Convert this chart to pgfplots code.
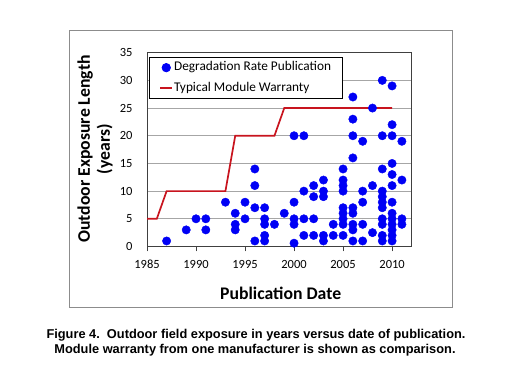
\documentclass[border=0pt]{standalone}
\usepackage{pgfplots}
\pgfplotsset{compat=1.18}
\usepackage{pgfplotstable}
\usepackage{fontspec}
\setmainfont{Carlito}
\newfontfamily\arialfont{Liberation Sans}
\definecolor{dotblue}{RGB}{0,0,245}
\definecolor{warred}{RGB}{200,20,30}

\pgfplotsset{
  dotleg/.style={legend image code/.code={\draw[##1] plot coordinates {(6pt,0pt)};}},
  lineleg/.style={legend image code/.code={\draw[##1] (0pt,0pt) -- (12pt,0pt);}},
}

\pgfplotstableread{
year value
1987 1
1989 3
1990 5
1991 5
1991 3
1993 8
1994 6
1994 4
1994 3
1995 8
1995 5
1996 14
1996 11
1996 7
1996 1
1997 7
1997 5
1997 4
1997 2
1997 1
1998 4
1999 6
2000 20
2000 8
2000 5
2000 4
2000 0.6
2001 20
2001 10
2001 5
2001 2
2002 11
2002 9
2002 5
2002 2
2003 12
2003 10
2003 9
2003 2
2003 1
2004 4
2004 2
2005 14
2005 12
2005 11
2005 10
2005 7
2005 6
2005 5
2005 4
2005 2
2006 27
2006 23
2006 20
2006 16
2006 7
2006 6
2006 4
2006 3
2006 1
2007 19
2007 10
2007 8
2007 4
2007 1
2008 25
2008 11
2008 2.5
2009 30
2009 20
2009 14
2009 10
2009 9
2009 8
2009 7
2009 5
2009 4
2009 2
2009 1
2010 29
2010 22
2010 20
2010 15
2010 13
2010 11
2010 8
2010 6
2010 5
2010 4
2010 3
2010 2
2010 1
2011 19
2011 12
2011 5
2011 4
}\pubdata

\pgfplotstableread{
year value
1985 5
1986 5
1987 10
1993 10
1994 20
1998 20
1999 25
2010 25
}\warranty

\begin{document}
\begin{tikzpicture}[x=1pt,y=1pt]
\path (0,0) rectangle (509,369);
\draw[black!45, line width=0.8pt] (69,62) rectangle (452,338.3);
\begin{axis}[
  at={(147pt,122.5pt)}, anchor=south west,
  scale only axis, width=264.7pt, height=193.8pt,
  xmin=1985, xmax=2012, ymin=0, ymax=35,
  xtick={1985,1990,...,2010}, ytick={0,5,...,35},
  /pgf/number format/assume math mode=true,
  /pgf/number format/1000 sep={},
  tick label style={font=\fontsize{12.5}{14}\selectfont},
  x tick label style={yshift=-5pt},
  y tick label style={xshift=-6pt},
  xtick pos=bottom, ytick pos=left,
  tick align=outside,
  xtick style={black!75, line width=0.8pt},
  major tick length=5pt,
  ytick style={draw=none},
  axis line style={black!75, line width=0.8pt},
  ymajorgrids, grid style={black!35, line width=0.8pt},
  xlabel={Publication Date},
  xlabel style={font=\fontsize{17.7}{20}\selectfont\bfseries, at={(axis description cs:0.505,-0.24)}, anchor=center},
  ylabel={Outdoor Exposure Length\\(years)},
  ylabel style={font=\fontsize{17.7}{20}\selectfont\bfseries, align=center, at={(axis description cs:-0.196,0.503)}, anchor=center},
  legend style={at={(0.0076,0.978)}, anchor=north west, draw=black, line width=0.8pt, fill=white,
    font=\fontsize{13.3}{15}\selectfont, legend cell align=left, row sep=6.4pt,
    inner xsep=10pt, inner ysep=3.3pt,
    nodes={inner sep=1pt, text height=9pt, text depth=3pt}},
  clip=false,
]
\addplot[only marks, mark=*, mark size=4.2pt, dotblue, mark options={draw=dotblue, fill=dotblue}, dotleg] table[x=year,y=value]{\pubdata};
\addlegendentry{Degradation Rate Publication}
\addplot[warred, line width=1.7pt, mark=none, lineleg] table[x=year,y=value]{\warranty};
\addlegendentry{Typical Module Warranty}
\end{axis}
\node[font=\arialfont\bfseries\fontsize{12.8}{15}\selectfont] at (256,34) {Figure 4.\ \ Outdoor field exposure in years versus date of publication.};
\node[font=\arialfont\bfseries\fontsize{12.8}{15}\selectfont] at (255,18.5) {Module warranty from one manufacturer is shown as comparison.};
\end{tikzpicture}
\end{document}
